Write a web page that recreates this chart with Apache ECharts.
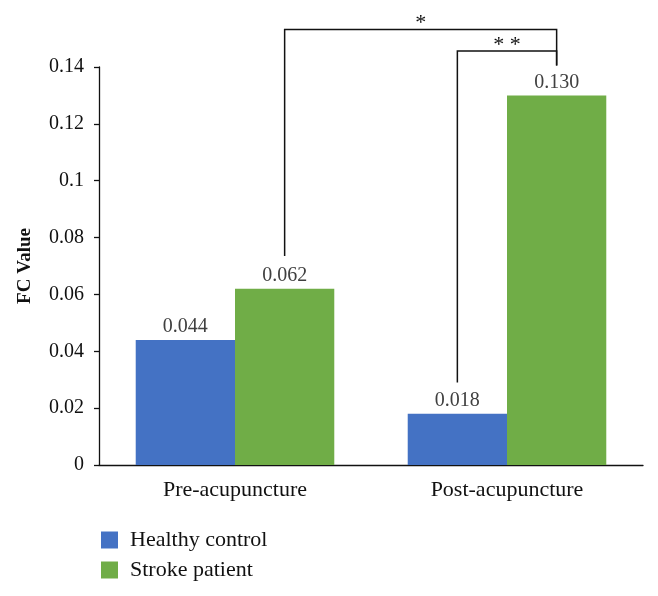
<!DOCTYPE html>
<html>
<head>
<meta charset="utf-8">
<script src="https://cdn.jsdelivr.net/npm/echarts@6/dist/echarts.min.js"></script>
<style>html,body{margin:0;padding:0;background:#fff;}#c{width:658px;height:596px;}</style>
</head>
<body>
<div id="c"></div>
<script>
var categories = ['Pre-acupuncture', 'Post-acupuncture'];
var healthyControl = [0.044, 0.018];
var strokePatient = [0.062, 0.130];
var yTicks = ['0', '0.02', '0.04', '0.06', '0.08', '0.1', '0.12', '0.14'];
// significance brackets: [seriesA, catA, seriesB, catB, top value, lower end A, lower end B, text]
var bracketFrom = [[1, 0], [0, 1]];
var bracketTo = [[1, 1], [1, 1]];
var bracketTop = [0.1532, 0.1456];
var bracketEndA = [0.0735, 0.029];
var bracketEndB = [0.1405, 0.1405];
var bracketText = ['*', '* *'];

var FONT = '"Liberation Serif", "DejaVu Serif", serif';
var chart = echarts.init(document.getElementById('c'), null, {renderer: 'canvas'});
var option = {
  animation: false,
  backgroundColor: '#fff',
  grid: {left: 99, right: 15, top: 67, bottom: 131, containLabel: false},
  legend: {
    orient: 'vertical', left: 96, top: 524, itemWidth: 17, itemHeight: 17, itemGap: 8,
    icon: 'rect',
    textStyle: {fontFamily: FONT, fontSize: 22, color: '#111', padding: [0, 0, 0, 7]},
    data: ['Healthy control', 'Stroke patient']
  },
  xAxis: {
    type: 'category', data: categories,
    axisLine: {lineStyle: {color: '#111', width: 1.3}},
    axisTick: {show: false},
    axisLabel: {fontFamily: FONT, fontSize: 22, color: '#111', margin: 14}
  },
  yAxis: {
    type: 'value', min: 0, max: 0.14, interval: 0.02,
    name: 'FC Value', nameLocation: 'middle', nameGap: 64, nameRotate: 90,
    nameTextStyle: {fontFamily: FONT, fontSize: 19, fontWeight: 'bold', color: '#111'},
    axisLine: {show: true, lineStyle: {color: '#111', width: 1.3}},
    axisTick: {show: true, length: 5, lineStyle: {color: '#111', width: 1.3}},
    splitLine: {show: false},
    axisLabel: {fontFamily: FONT, fontSize: 20, color: '#111', margin: 15,
      formatter: function (v, i) { return yTicks[i]; }}
  },
  series: [
    {name: 'Healthy control', type: 'bar', data: healthyControl, barGap: '0%', barCategoryGap: '27%',
      itemStyle: {color: '#4472C4'},
      label: {show: true, position: 'top', distance: 3, fontFamily: FONT, fontSize: 20, color: '#404040',
        formatter: function (p) { return p.value.toFixed(3); }}},
    {name: 'Stroke patient', type: 'bar', data: strokePatient,
      itemStyle: {color: '#70AD47'},
      label: {show: true, position: 'top', distance: 3, fontFamily: FONT, fontSize: 20, color: '#404040',
        formatter: function (p) { return p.value.toFixed(3); }}}
  ]
};
chart.setOption(option);

function barCenterX(s, i) {
  var lay = chart.getModel().getSeriesByIndex(s).getData().getItemLayout(i);
  return lay.x + lay.width / 2;
}
function yPix(v) { return chart.convertToPixel({yAxisIndex: 0}, v); }

var elements = [];
for (var k = 0; k < bracketTop.length; k++) {
  var xa = barCenterX(bracketFrom[k][0], bracketFrom[k][1]);
  var xb = barCenterX(bracketTo[k][0], bracketTo[k][1]);
  var yt = yPix(bracketTop[k]);
  var ya = yPix(bracketEndA[k]);
  var yb = yPix(bracketEndB[k]);
  elements.push({
    type: 'polyline',
    shape: {points: [[xa, ya], [xa, yt], [xb, yt], [xb, yb]]},
    style: {stroke: '#111', lineWidth: 1.5, fill: null}
  });
  elements.push({
    type: 'text',
    x: (xa + xb) / 2, y: yt + 5,
    style: {text: bracketText[k], fontFamily: FONT, fontSize: 22, fill: '#111', align: 'center', verticalAlign: 'bottom'}
  });
}
chart.setOption({graphic: {elements: elements}});
</script>
</body>
</html>
